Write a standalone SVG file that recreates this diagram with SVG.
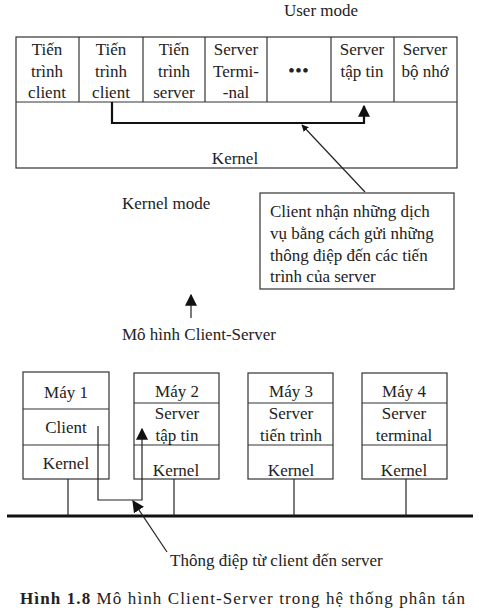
<svg xmlns="http://www.w3.org/2000/svg" width="479" height="615" viewBox="0 0 479 615">
<style>
text{font-family:"Liberation Serif","DejaVu Serif",serif;font-size:17px;fill:#222}
.c{text-anchor:middle}
.b{fill:none;stroke:#333;stroke-width:1.2}
.ln{fill:none;stroke:#222;stroke-width:1.2}
.thk{fill:none;stroke:#111;stroke-width:2.2}
</style>
<defs>
<marker id="ah" viewBox="0 0 10 10" refX="9" refY="5" markerWidth="7" markerHeight="7" orient="auto" markerUnits="userSpaceOnUse"><path d="M0,0 L10,5 L0,10 z" fill="#111"/></marker>
<marker id="ahb" viewBox="0 0 10 10" refX="9" refY="5" markerWidth="12" markerHeight="12" orient="auto" markerUnits="userSpaceOnUse"><path d="M0,0 L10,5 L0,10 z" fill="#111"/></marker>
</defs>
<rect width="479" height="615" fill="#fff"/>
<text x="321" y="16" class="c">User mode</text>
<g id="top">
<rect class="b" x="16" y="37" width="441" height="131"/>
<line class="b" x1="16" y1="102" x2="457" y2="102"/>
<line class="b" x1="79" y1="37" x2="79" y2="102"/>
<line class="b" x1="143" y1="37" x2="143" y2="102"/>
<line class="b" x1="205" y1="37" x2="205" y2="102"/>
<line class="b" x1="267" y1="37" x2="267" y2="102"/>
<line class="b" x1="331" y1="37" x2="331" y2="102"/>
<line class="b" x1="394" y1="37" x2="394" y2="102"/>
</g>
<g id="p1"><text class="c" x="47" y="55">Tiến</text><text class="c" x="47" y="77">trình</text><text class="c" x="47" y="98">client</text></g>
<g id="p2"><text class="c" x="111" y="55">Tiến</text><text class="c" x="111" y="77">trình</text><text class="c" x="111" y="98">client</text></g>
<g id="p3"><text class="c" x="174" y="55">Tiến</text><text class="c" x="174" y="77">trình</text><text class="c" x="174" y="98">server</text></g>
<g id="p4"><text class="c" x="236" y="55">Server</text><text class="c" x="236" y="77">Termi-</text><text class="c" x="236" y="98">-nal</text></g>
<g id="p5"><text class="c" x="299" y="76" style="font-weight:bold;letter-spacing:1px">•••</text></g>
<g id="p6"><text class="c" x="362" y="55">Server</text><text class="c" x="362" y="77">tập tin</text></g>
<g id="p7"><text class="c" x="425" y="55">Server</text><text class="c" x="425" y="77">bộ nhớ</text></g>
<g id="kernel"><text class="c" x="235" y="164">Kernel</text></g>
<text x="122" y="209">Kernel mode</text>
<g id="note">
<rect class="b" x="260" y="193" width="194" height="96"/>
<text x="270" y="217">Client nhận những dịch</text>
<text x="270" y="239">vụ bằng cách gửi những</text>
<text x="270" y="261">thông điệp đến các tiến</text>
<text x="270" y="282">trình của server</text>
</g>
<text x="122" y="340">Mô hình Client-Server</text>
<g id="m1">
<rect class="b" x="23" y="372" width="86" height="107"/>
<line class="b" x1="23" y1="409" x2="109" y2="409"/>
<line class="b" x1="23" y1="445" x2="109" y2="445"/>
<text class="c" x="66" y="398">Máy 1</text>
<text class="c" x="66" y="433">Client</text>
<text class="c" x="66" y="469">Kernel</text>
</g>
<g id="m2">
<rect class="b" x="134" y="373" width="85" height="106"/>
<line class="b" x1="134" y1="403" x2="219" y2="403"/>
<line class="b" x1="134" y1="445" x2="219" y2="445"/>
<text class="c" x="177" y="397">Máy 2</text>
<text class="c" x="177" y="419">Server</text>
<text class="c" x="177" y="441">tập tin</text>
<text class="c" x="176" y="476">Kernel</text>
</g>
<g id="m3">
<rect class="b" x="248" y="373" width="85" height="106"/>
<line class="b" x1="248" y1="403" x2="333" y2="403"/>
<line class="b" x1="248" y1="445" x2="333" y2="445"/>
<text class="c" x="291" y="397">Máy 3</text>
<text class="c" x="291" y="419">Server</text>
<text class="c" x="291" y="441">tiến trình</text>
<text class="c" x="291" y="476">Kernel</text>
</g>
<g id="m4">
<rect class="b" x="362" y="373" width="85" height="106"/>
<line class="b" x1="362" y1="403" x2="447" y2="403"/>
<line class="b" x1="362" y1="445" x2="447" y2="445"/>
<text class="c" x="404" y="397">Máy 4</text>
<text class="c" x="404" y="419">Server</text>
<text class="c" x="404" y="441">terminal</text>
<text class="c" x="404" y="476">Kernel</text>
</g>
<g id="connectors">
<polyline class="thk" points="112,102 112,123 364,123 364,106" marker-end="url(#ahb)"/>
<line class="ln" x1="365" y1="192" x2="302" y2="125" marker-end="url(#ah)"/>
<line class="ln" x1="191" y1="318" x2="191" y2="295" marker-end="url(#ahb)"/>
<line x1="7" y1="516" x2="473" y2="516" stroke="#111" stroke-width="3"/>
<line class="ln" x1="68" y1="479" x2="68" y2="516"/>
<line class="ln" x1="174" y1="479" x2="174" y2="516"/>
<line class="ln" x1="294" y1="479" x2="294" y2="516"/>
<line class="ln" x1="406" y1="479" x2="406" y2="516"/>
<polyline class="ln" points="98,426 98,500 142,500 142,429" marker-end="url(#ahb)"/>
<line class="ln" x1="167" y1="552" x2="133" y2="501" marker-end="url(#ahb)"/>
</g>
<text x="170" y="566">Thông điệp từ client đến server</text>
<text x="20" y="604" textLength="445" lengthAdjust="spacing"><tspan font-weight="bold">Hình 1.8</tspan> Mô hình Client-Server trong hệ thống phân tán</text>
</svg>
